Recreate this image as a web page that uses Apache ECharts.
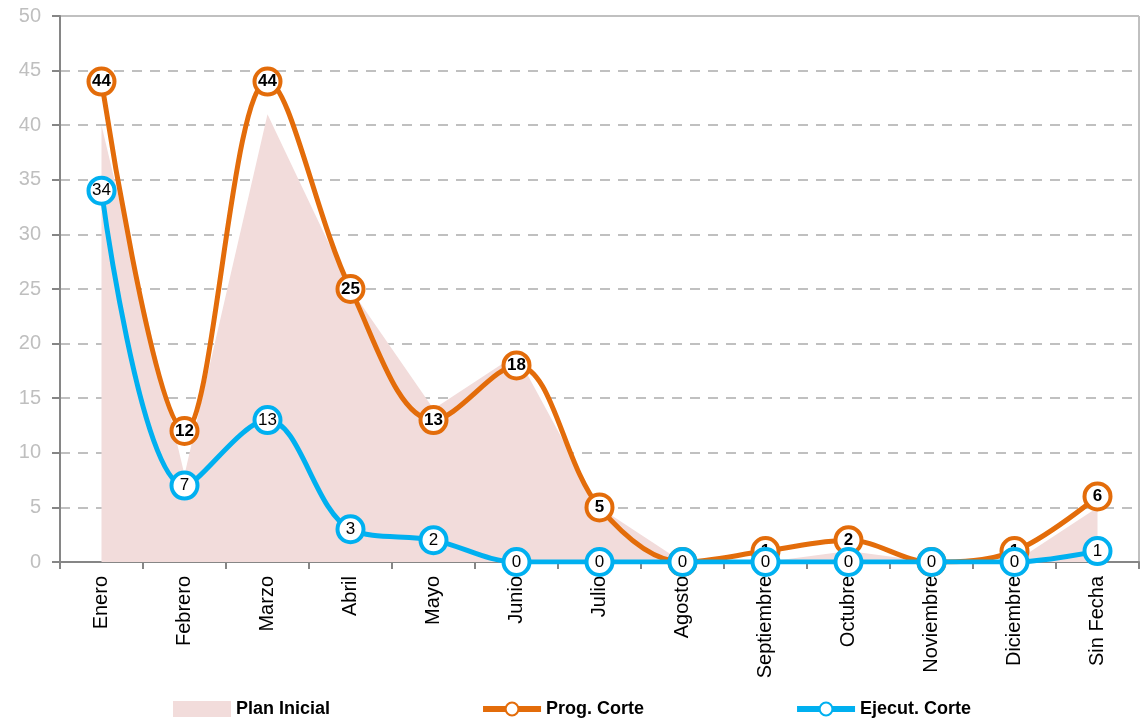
<!DOCTYPE html>
<html>
<head>
<meta charset="utf-8">
<script src="https://cdn.jsdelivr.net/npm/echarts@6/dist/echarts.min.js"></script>
<style>
html, body { margin: 0; padding: 0; background: #fff; }
#main { width: 1146px; height: 725px; }
</style>
</head>
<body>
<div id="main"></div>
<script>
// datos del gráfico
var meses = ['Enero', 'Febrero', 'Marzo', 'Abril', 'Mayo', 'Junio', 'Julio', 'Agosto', 'Septiembre', 'Octubre', 'Noviembre', 'Diciembre', 'Sin Fecha'];
var planInicial = [40, 8, 41, 25, 14, 19, 5, 0, 0, 1, 0, 0, 5];
var progCorte = [44, 12, 44, 25, 13, 18, 5, 0, 1, 2, 0, 1, 6];
var ejecutCorte = [34, 7, 13, 3, 2, 0, 0, 0, 0, 0, 0, 0, 1];
var ticksY = [0, 5, 10, 15, 20, 25, 30, 35, 40, 45, 50];

var myChart = echarts.init(document.getElementById('main'));

var option = {
	backgroundColor: '#fff',
	animation: false,
	grid: {
		left: 60,
		right: 7,
		top: 16,
		bottom: 163
	},
	legend: {
		bottom: 2,
		left: 168,
		itemGap: 150,
		itemWidth: 58,
		itemHeight: 16,
		textStyle: {
			fontFamily: 'Liberation Sans Narrow, Liberation Sans, sans-serif',
			fontWeight: 'bold',
			fontSize: 18,
			color: '#000'
		},
		data: [
			{ name: 'Plan Inicial', icon: 'rect' },
			{ name: 'Prog. Corte', lineStyle: { width: 6 } },
			{ name: 'Ejecut. Corte', lineStyle: { width: 6 } }
		]
	},
	xAxis: {
		type: 'category',
		data: meses,
		boundaryGap: true,
		axisLine: { lineStyle: { color: '#868686', width: 2 } },
		axisTick: { show: true, length: 7, lineStyle: { color: '#868686', width: 2 } },
		axisLabel: {
			rotate: 90,
			margin: 14,
			fontFamily: 'Liberation Sans, Arial, sans-serif',
			fontSize: 20,
			color: '#000'
		},
		splitLine: { show: false }
	},
	yAxis: {
		type: 'value',
		min: ticksY[0],
		max: ticksY[ticksY.length - 1],
		interval: 5,
		axisLine: { show: true, lineStyle: { color: '#868686', width: 2 } },
		axisTick: { show: true, length: 8, lineStyle: { color: '#868686', width: 2 } },
		axisLabel: {
			margin: 19,
			fontFamily: 'Liberation Sans, Arial, sans-serif',
			fontSize: 20,
			color: '#bfbfbf'
		},
		splitLine: {
			show: true,
			lineStyle: { color: '#c0c0c0', width: 2, type: [10, 8] }
		}
	},
	series: [{
		name: 'Plan Inicial',
		type: 'line',
		data: planInicial,
		symbol: 'none',
		smooth: false,
		lineStyle: { width: 0 },
		itemStyle: { color: '#f2dcdb' },
		areaStyle: { color: '#f2dcdb', opacity: 1 },
		z: 1
	}, {
		name: 'Prog. Corte',
		type: 'line',
		data: progCorte,
		smooth: 0.35,
		symbol: 'circle',
		symbolSize: 26,
		lineStyle: { color: '#e36c0a', width: 5 },
		itemStyle: { color: '#fff', borderColor: '#e36c0a', borderWidth: 4 },
		label: {
			show: true,
			position: 'inside',
			fontFamily: 'Liberation Sans Narrow, Liberation Sans, sans-serif',
			fontWeight: 'bold',
			fontSize: 17,
			color: '#000'
		},
		z: 3
	}, {
		name: 'Ejecut. Corte',
		type: 'line',
		data: ejecutCorte,
		smooth: 0.35,
		symbol: 'circle',
		symbolSize: 26,
		lineStyle: { color: '#00b0f0', width: 5 },
		itemStyle: { color: '#fff', borderColor: '#00b0f0', borderWidth: 4 },
		label: {
			show: true,
			position: 'inside',
			fontFamily: 'Liberation Sans Narrow, Liberation Sans, sans-serif',
			fontSize: 17,
			color: '#000'
		},
		z: 4
	}],
	graphic: [{
		type: 'line',
		shape: { x1: 60, y1: 16, x2: 1139, y2: 16 },
		style: { stroke: '#c0c0c0', lineWidth: 2 }
	}, {
		type: 'line',
		shape: { x1: 1139, y1: 16, x2: 1139, y2: 562 },
		style: { stroke: '#c0c0c0', lineWidth: 2 }
	}]
};

myChart.setOption(option);
</script>
</body>
</html>
